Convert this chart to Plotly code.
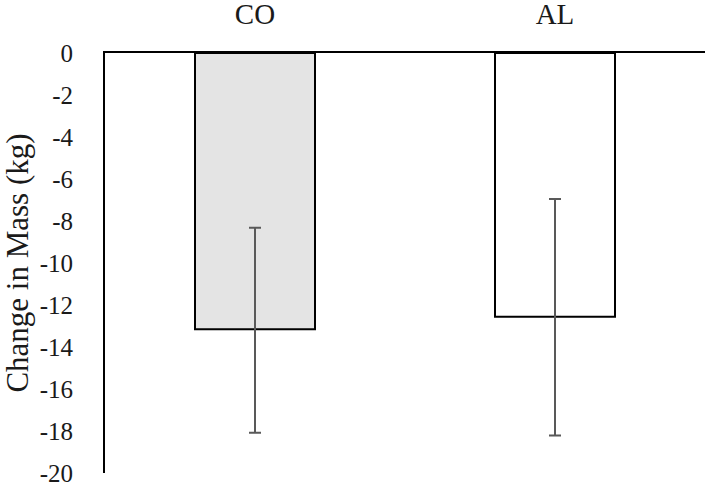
import plotly.graph_objects as go

# data
groups = ["CO", "AL"]
mass_change = [-13.16, -12.56]
err_up = [4.84, 5.61]
err_down = [4.92, 5.66]
bar_fill = ["#e4e4e4", "#ffffff"]

y_ticks = list(range(0, -21, -2))
y_labels = [str(v) for v in y_ticks]  # plain hyphen, not unicode minus

fig = go.Figure(go.Bar(
    x=groups,
    y=mass_change,
    width=0.4,
    marker=dict(color=bar_fill, line=dict(color="#000000", width=2)),
    error_y=dict(
        type="data", symmetric=False,
        array=err_up, arrayminus=err_down,
        color="#595959", thickness=2, width=6,
    ),
    showlegend=False,
))

fig.update_layout(
    width=709, height=486,
    margin=dict(l=105, r=4, t=53, b=13),
    paper_bgcolor="#ffffff",
    plot_bgcolor="#ffffff",
    font=dict(family="Liberation Serif", size=25, color="#1a1a1a"),
    xaxis=dict(
        side="top", automargin=False,
        showline=True, linecolor="#000000", linewidth=2,
        showgrid=False, ticks="", ticklabelstandoff=15,
        tickfont=dict(size=29),
    ),
    yaxis=dict(
        range=[-20, 0], automargin=False,
        tickvals=y_ticks, ticktext=y_labels,
        ticklabeloverflow="allow",
        showline=True, linecolor="#000000", linewidth=2,
        showgrid=False, zeroline=False, ticks="",
        ticklabelstandoff=25,
        title=dict(text="Change in Mass (kg)", standoff=9, font=dict(size=31)),
    ),
)

# drop the default body margin so the figure sits at the page corner
fig.write_html(
    "out.html",
    config={"displayModeBar": False},
    post_script="document.body.style.margin = '0';",
)
